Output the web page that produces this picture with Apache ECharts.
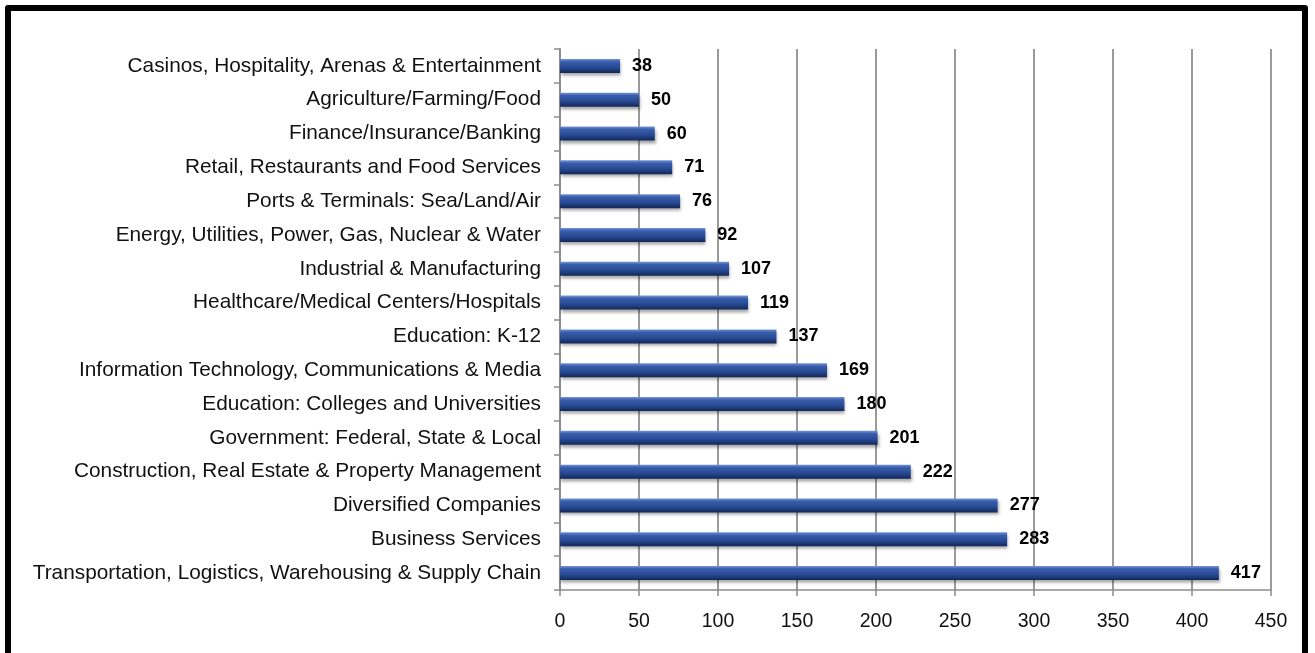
<!DOCTYPE html>
<html><head><meta charset="utf-8">
<script src="https://cdn.jsdelivr.net/npm/echarts@6/dist/echarts.min.js"></script>
<style>
html,body{margin:0;padding:0;background:#fff;overflow:hidden;}
#frame{position:absolute;left:5px;top:5px;width:1291px;height:700px;border:6px solid #000;border-radius:3px;}
#c{position:absolute;left:0;top:0;width:1315px;height:653px;}
</style></head><body>
<div id="frame"></div>
<div id="c"></div>
<script>
const categories = [
  "Casinos, Hospitality, Arenas & Entertainment",
  "Agriculture/Farming/Food",
  "Finance/Insurance/Banking",
  "Retail, Restaurants and Food Services",
  "Ports & Terminals: Sea/Land/Air",
  "Energy, Utilities, Power, Gas, Nuclear & Water",
  "Industrial & Manufacturing",
  "Healthcare/Medical Centers/Hospitals",
  "Education: K-12",
  "Information Technology, Communications & Media",
  "Education: Colleges and Universities",
  "Government: Federal, State & Local",
  "Construction, Real Estate & Property Management",
  "Diversified Companies",
  "Business Services",
  "Transportation, Logistics, Warehousing & Supply Chain"
];
const values = [38, 50, 60, 71, 76, 92, 107, 119, 137, 169, 180, 201, 222, 277, 283, 417];
const xTicks = [0, 50, 100, 150, 200, 250, 300, 350, 400, 450];

const chart = echarts.init(document.getElementById('c'));
chart.setOption({
  animation: false,
  grid: {left: 560, right: 44, top: 49, bottom: 63, containLabel: false},
  xAxis: {
    type: 'value', min: xTicks[0], max: xTicks[xTicks.length-1], interval: 50,
    axisLine: {show: true, lineStyle: {color: '#8c8c8c', width: 1.5}},
    axisTick: {show: true, length: 6, lineStyle: {color: '#8c8c8c', width: 1.5}},
    axisLabel: {color: '#111', fontSize: 19.5, fontFamily: 'Arial, Liberation Sans', margin: 22},
    splitLine: {show: true, lineStyle: {color: '#9a9a9a', width: 2}}
  },
  yAxis: {
    type: 'category', data: categories, inverse: true,
    axisLine: {show: true, lineStyle: {color: '#8c8c8c', width: 2}},
    axisTick: {show: true, length: 6, lineStyle: {color: '#8c8c8c', width: 1.5}},
    axisLabel: {color: '#111', fontSize: 20.8, fontFamily: 'Arial, Liberation Sans', margin: 19}
  },
  series: [{
    type: 'bar', data: values, barWidth: 14,
    itemStyle: {
      color: new echarts.graphic.LinearGradient(0, 0, 0, 1, [
        {offset: 0, color: '#7595d4'},
        {offset: 0.2, color: '#3a5ead'},
        {offset: 0.6, color: '#284a94'},
        {offset: 1, color: '#122758'}
      ]),
      shadowColor: 'rgba(0,0,0,0.35)', shadowBlur: 3, shadowOffsetX: 1, shadowOffsetY: 3
    },
    label: {show: true, position: 'right', distance: 12, color: '#000', fontWeight: 'bold', fontSize: 18, fontFamily: 'Arial, Liberation Sans'}
  }]
});
</script>
</body></html>
